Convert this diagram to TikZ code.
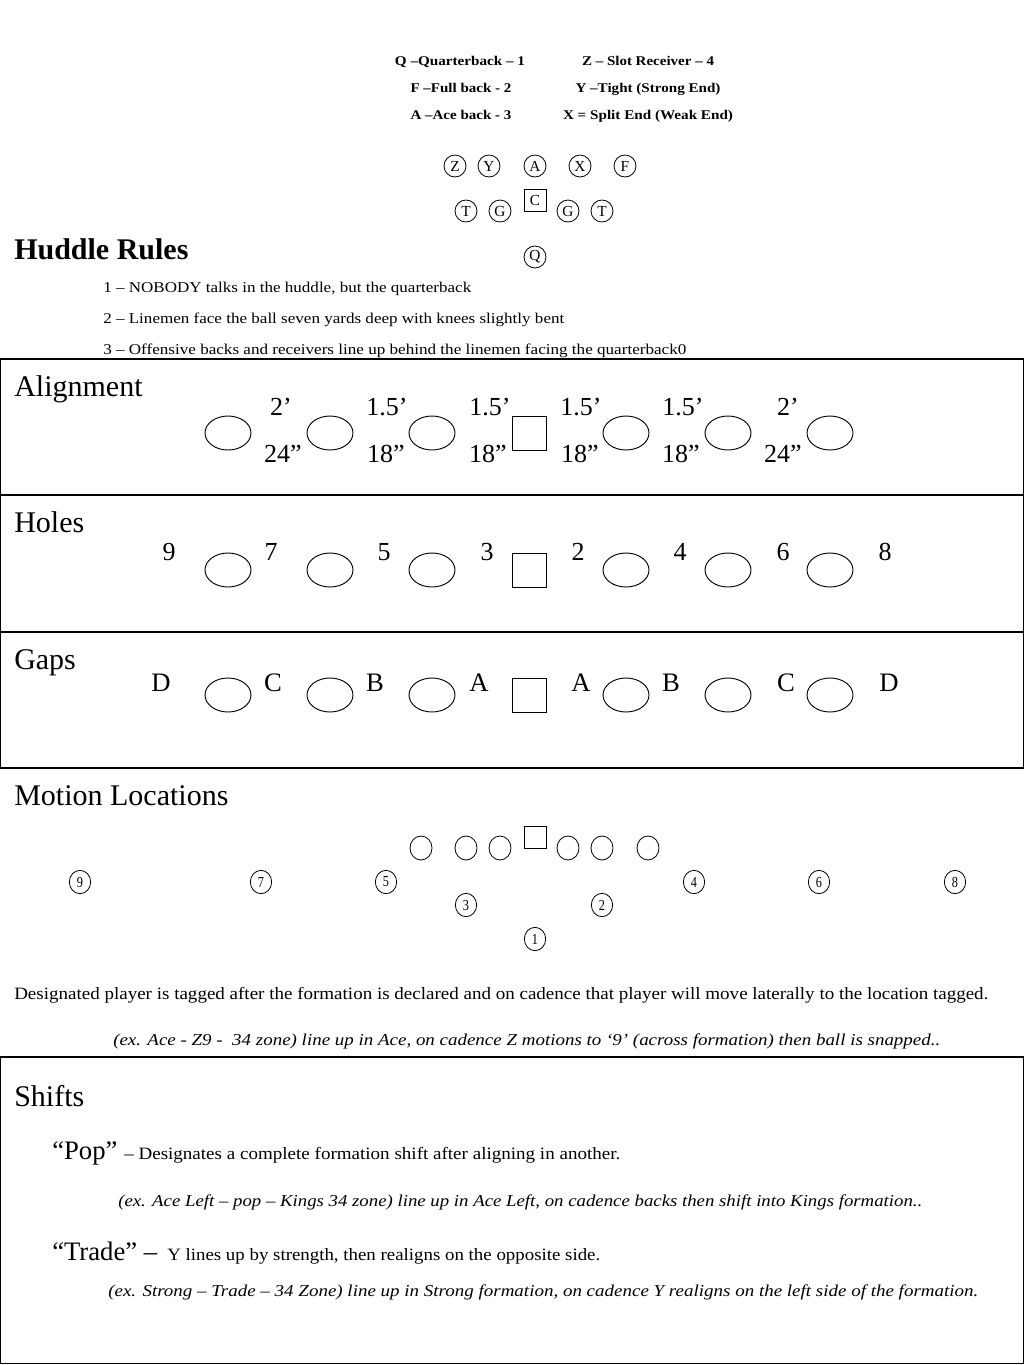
\documentclass[tikz,border=0pt]{standalone}
\usepackage{fontspec}
\setmainfont{Liberation Serif}
\usepackage{graphicx}
\usetikzlibrary{shapes.geometric}
\newcommand\fsz[1]{\fontsize{#1}{#1}\selectfont}
\newcommand\fitw[2]{\resizebox{#1}{\height}{#2}}
\newcommand\narrow[1]{\scalebox{0.8}[1]{#1}}
\begin{document}
\begin{tikzpicture}[x=0.75pt,y=-0.75pt,
  lg/.style={anchor=base,inner sep=0,font=\fsz{10pt}\bfseries},
  pc/.style={circle,draw,line width=0.6pt,minimum size=16.5pt,inner sep=0,font=\fsz{11.5pt}},
  pcen/.style={rectangle,draw,line width=0.6pt,minimum size=16.5pt,inner sep=0,font=\fsz{11.5pt}},
  ttl/.style={anchor=base west,inner sep=0,font=\fsz{22.5pt}},
  rule/.style={anchor=base west,inner sep=0,font=\fsz{11.25pt}},
  oval/.style={ellipse,draw,line width=0.7pt,minimum width=34.5pt,minimum height=25.5pt,inner sep=0},
  ctr/.style={rectangle,draw,line width=0.7pt,minimum width=25.5pt,minimum height=25.5pt,inner sep=0},
  big/.style={anchor=base,inner sep=0,font=\fsz{19.5pt}},
  mov/.style={ellipse,draw,line width=0.6pt,minimum width=16.5pt,minimum height=18pt,inner sep=0},
  mctr/.style={rectangle,draw,line width=0.6pt,minimum width=16.5pt,minimum height=16.5pt,inner sep=0},
  num/.style={ellipse,draw,line width=0.6pt,minimum width=16pt,minimum height=17.5pt,inner sep=0,font=\fsz{11.5pt}},
  box/.style={draw,line width=1pt},
  body/.style={anchor=base west,inner sep=0,font=\fsz{13pt}},
  ex/.style={anchor=base west,inner sep=0,font=\fsz{12.5pt}\itshape}
]
\useasboundingbox (0,0) rectangle (1024,1365);

% legend
\node[lg] (l1) at (460,65.5) {\fitw{97.5pt}{Q –Quarterback – 1}};
\node[lg] (l2) at (461,92.5) {\fitw{75.75pt}{F –Full back - 2}};
\node[lg] (l3) at (461,119.5) {\fitw{75.75pt}{A –Ace back - 3}};
\node[lg] (l4) at (648,65.5) {\fitw{99pt}{Z – Slot Receiver – 4}};
\node[lg] (l5) at (648,92.5) {\fitw{108.75pt}{Y –Tight (Strong End)}};
\node[lg] (l6) at (648,119.5) {\fitw{127.5pt}{X = Split End (Weak End)}};

% formation
\node[pc] (fz) at (455,166) {Z};
\node[pc] (fy) at (489,166) {Y};
\node[pc] (fa) at (535,166) {A};
\node[pc] (fx) at (580,166) {X};
\node[pc] (ff) at (625,166) {F};
\node[pcen] (fc) at (535,200) {C};
\node[pc] (ft1) at (466,211) {T};
\node[pc] (fg1) at (500,211) {G};
\node[pc] (fg2) at (568,211) {G};
\node[pc] (ft2) at (602,211) {T};
\node[pc] (fq) at (535,257) {Q};

% huddle rules
\node[anchor=base west,inner sep=0,font=\fsz{22.5pt}\bfseries] (hr) at (14,259) {Huddle Rules};
\node[rule] (r1) at (103,292) {\fitw{276pt}{1 – NOBODY talks in the huddle, but the quarterback}};
\node[rule] (r2) at (103,323) {\fitw{345.75pt}{2 – Linemen face the ball seven yards deep with knees slightly bent}};
\node[rule] (r3) at (103,354) {\fitw{437.25pt}{3 – Offensive backs and receivers line up behind the linemen facing the quarterback0}};

% boxes
\draw[box] (0.7,359) rectangle (1023.3,768);
\draw[box] (0.7,495) -- (1023.3,495);
\draw[box] (0.7,632) -- (1023.3,632);
\draw[box] (0.7,1057) rectangle (1023.3,1363.5);

% alignment
\node[ttl] (tal) at (14,396) {Alignment};
\foreach \x/\n in {228/a1,330/a2,432/a3,626/a4,728/a5,830/a6} \node[oval] (\n) at (\x,433) {};
\node[ctr] (ac) at (529,433) {};
\node[big] (at1) at (281,415) {2’};
\node[big] (at2) at (387,415) {1.5’};
\node[big] (at3) at (490,415) {1.5’};
\node[big] (at4) at (581,415) {1.5’};
\node[big] (at5) at (683,415) {1.5’};
\node[big] (at6) at (788,415) {2’};
\node[big] (ab1) at (283,462) {24”};
\node[big] (ab2) at (386,462) {18”};
\node[big] (ab3) at (488,462) {18”};
\node[big] (ab4) at (580,462) {18”};
\node[big] (ab5) at (681,462) {18”};
\node[big] (ab6) at (783,462) {24”};

% holes
\node[ttl] (tho) at (14,532) {Holes};
\foreach \x/\n in {228/h1,330/h2,432/h3,626/h4,728/h5,830/h6} \node[oval] (\n) at (\x,570) {};
\node[ctr] (hc) at (529,570) {};
\foreach \x/\t/\n in {169/9/hn9,271/7/hn7,384/5/hn5,487/3/hn3,578/2/hn2,680/4/hn4,783/6/hn6,885/8/hn8}
  \node[big] (\n) at (\x,560) {\t};

% gaps
\node[ttl] (tga) at (14,669) {Gaps};
\foreach \x/\n in {228/g1,330/g2,432/g3,626/g4,728/g5,830/g6} \node[oval] (\n) at (\x,695) {};
\node[ctr] (gc) at (529,695) {};
\foreach \x/\t/\n in {161/D/gl1,273/C/gl2,375/B/gl3,479/A/gl4,581/A/gl5,671/B/gl6,786/C/gl7,889/D/gl8}
  \node[big,font=\fsz{20pt}] (\n) at (\x,691) {\t};

% motion locations
\node[ttl] (tmo) at (14,805) {Motion Locations};
\foreach \x/\n in {421/m1,466/m2,500/m3,568/m4,602/m5,648/m6} \node[mov] (\n) at (\x,848) {};
\node[mctr] (mc) at (535,837) {};
\node[num] (n9) at (80,882) {\narrow{9}};
\node[num] (n7) at (261,882) {\narrow{7}};
\node[num] (n5) at (386,882) {\narrow{5}};
\node[num] (n4) at (694,882) {\narrow{4}};
\node[num] (n6) at (819,882) {\narrow{6}};
\node[num] (n8) at (955,882) {\narrow{8}};
\node[num] (n3) at (466,905) {\narrow{3}};
\node[num] (n2) at (602,905) {\narrow{2}};
\node[num] (n1) at (535,939) {\narrow{1}};

\node[body] (des) at (14,999) {\fitw{730.5pt}{Designated player is tagged after the formation is declared and on cadence that player will move laterally to the location tagged.}};
\node[ex] (exm) at (113,1045) {\fitw{620.25pt}{(ex. Ace - Z9 -\ \ 34 zone) line up in Ace, on cadence Z motions to ‘9’ (across formation) then ball is snapped..}};

% shifts
\node[ttl] (tsh) at (14,1106) {Shifts};
\node[anchor=base west,inner sep=0,font=\fsz{20pt}] (pop) at (52,1159) {“Pop”};
\node[body] (popd) at (124,1159) {\fitw{372pt}{– Designates a complete formation shift after aligning in another.}};
\node[ex] (ex1) at (118,1206) {\fitw{603pt}{(ex. Ace Left – pop – Kings 34 zone) line up in Ace Left, on cadence backs then shift into Kings formation..}};
\node[anchor=base west,inner sep=0,font=\fsz{20pt}] (trd) at (52,1260) {“Trade” –};
\node[body] (trdd) at (167,1260) {\fitw{324.75pt}{Y lines up by strength, then realigns on the opposite side.}};
\node[ex] (ex2) at (108,1296) {\fitw{652.5pt}{(ex. Strong – Trade – 34 Zone) line up in Strong formation, on cadence Y realigns on the left side of the formation.}};
\end{tikzpicture}
\end{document}
